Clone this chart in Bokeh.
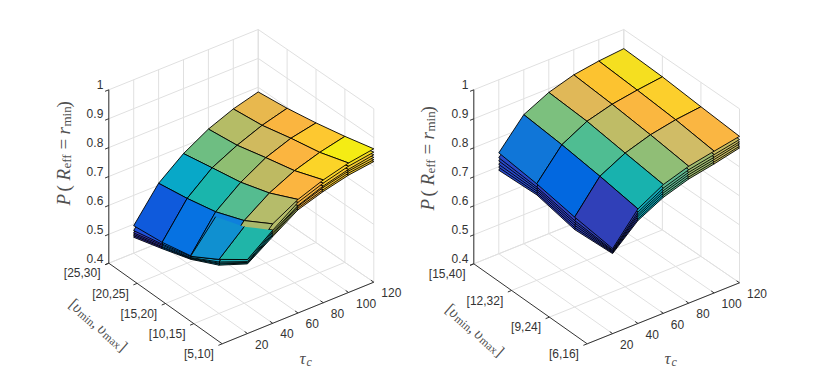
from math import pi, radians, cos, sin
from bokeh.plotting import figure
from bokeh.layouts import row
from bokeh.models import Range1d
from bokeh.core.properties import value
from bokeh.embed import file_html
from bokeh.resources import INLINE

tau_values = [20, 40, 60, 80, 100, 120]
tau_ticks = [20, 40, 60, 80, 100, 120]
z_ticks = [0.4, 0.5, 0.6, 0.7, 0.8, 0.9, 1.0]
z_tick_labels = ["0.4", "0.5", "0.6", "0.7", "0.8", "0.9", "1"]

left_speed_labels = ["[5,10]", "[10,15]", "[15,20]", "[20,25]", "[25,30]"]
right_speed_labels = ["[6,16]", "[9,24]", "[12,32]", "[15,40]"]

# Surfaces, top to bottom; rows follow the speed bins, columns follow tau_c
left_a = [[.656, .744, .793, .825, .848, .8615],
          [.587, .686, .746, .788, .816, .836],
          [.530, .647, .714, .764, .796, .814],
          [.507, .624, .695, .738, .772, .796],
          [.495, .607, .675, .725, .760, .784]]
left_b = [[.656, .722, .783, .814, .837, .850],
          [.587, .665, .736, .777, .805, .824],
          [.528, .630, .704, .753, .785, .802],
          [.501, .615, .685, .727, .761, .784],
          [.478, .596, .664, .714, .749, .772]]
left_c = [[.649, .716, .772, .804, .826, .841],
          [.578, .660, .730, .769, .796, .815],
          [.524, .625, .697, .745, .776, .793],
          [.497, .608, .677, .719, .752, .775],
          [.470, .588, .656, .706, .740, .763]]
left_d = [[.646, .710, .769, .799, .820, .832],
          [.574, .655, .722, .762, .788, .807],
          [.522, .620, .690, .738, .768, .785],
          [.492, .602, .670, .712, .744, .767],
          [.465, .581, .649, .699, .732, .755]]
left_e = [[.644, .705, .763, .791, .813, .824],
          [.571, .650, .715, .754, .781, .799],
          [.520, .616, .684, .730, .761, .777],
          [.489, .596, .663, .704, .737, .759],
          [.460, .574, .642, .691, .725, .747]]
left_f = [[.641, .700, .757, .785, .806, .8175],
          [.567, .645, .710, .748, .774, .792],
          [.518, .612, .678, .724, .754, .770],
          [.485, .589, .657, .698, .730, .752],
          [.455, .567, .635, .685, .718, .740]]

right_a = [[.693, .795, .844, .872, .889, .905],
           [.710, .816, .861, .889, .906, .916],
           [.733, .833, .879, .903, .917, .928],
           [.748, .845, .887, .913, .926, .934]]
right_b = [[.688, .784, .832, .860, .877, .894],
           [.698, .803, .848, .876, .893, .904],
           [.722, .820, .866, .890, .904, .916],
           [.731, .831, .874, .900, .913, .922]]
right_c = [[.685, .776, .823, .851, .868, .886],
           [.690, .795, .840, .868, .885, .896],
           [.715, .812, .858, .882, .896, .908],
           [.720, .821, .865, .892, .905, .914]]
right_d = [[.682, .769, .815, .843, .860, .879],
           [.682, .786, .831, .859, .876, .888],
           [.708, .803, .849, .873, .887, .900],
           [.708, .812, .857, .883, .896, .906]]
right_e = [[.679, .761, .807, .835, .852, .871],
           [.674, .778, .823, .851, .868, .881],
           [.701, .795, .841, .865, .879, .893],
           [.698, .803, .848, .875, .888, .899]]
right_f = [[.676, .755, .800, .828, .845, .865],
           [.667, .771, .816, .844, .861, .874],
           [.695, .788, .834, .858, .872, .886],
           [.688, .795, .841, .868, .881, .892]]

left_top_colors = [["#A8B86C", "#B5BC6A", "#FBB540", "#FBD428", "#F4EC14"],
                   ["#0F80DC", "#55BC90", "#BEBA62", "#FBB540", "#FDC830"],
                   ["#0672E2", "#1AB5AC", "#8FBE72", "#D0BA5E", "#FAB540"],
                   ["#0F5ADC", "#08A8C8", "#6EBE82", "#B5BC66", "#E8B84E"]]
left_second_colors = [["#20B5A8", "#B5BC6A", "#FBB540", "#FBD428", "#F4DC20"],
                      ["#1090D0", "#55BC90", "#BEBA62", "#FBB540", "#FDC830"],
                      ["#0672E2", "#1AB5AC", "#8FBE72", "#D0BA5E", "#FAB540"],
                      ["#2050D8", "#08A8C8", "#6EBE82", "#B5BC66", "#E8B84E"]]
left_low_colors = [["#20A8B0", "#A8B860", "#F0B040", "#F8C830", "#F0C830"],
                   ["#15A0C8", "#55BC90", "#BEBA62", "#FBB540", "#FDC830"],
                   ["#0A80E0", "#1AB5AC", "#8FBE72", "#D0BA5E", "#FAB540"],
                   ["#3C3CC0", "#08A8C8", "#6EBE82", "#B5BC66", "#E8B84E"]]

right_top_colors = [["#3040B8", "#18B2AE", "#90BE76", "#D0BC66", "#FAB642"],
                    ["#0268E0", "#4FBD92", "#BFBC66", "#FAB740", "#FCCF2C"],
                    ["#1076D8", "#7CC07E", "#E0B858", "#FCC330", "#F5DF20"]]
right_low_colors = [["#3040B8", "#10A8B8", "#60B890", "#A0BC70", "#C8BC60"],
                    ["#3040C0", "#4FBD92", "#BFBC66", "#FAB740", "#FCCF2C"],
                    ["#2848C8", "#7CC07E", "#E0B858", "#FCC330", "#F5DF20"]]

AXIS = "#333333"
GRID = "#E0E0E0"
LABEL = "#505050"
SANS = value("Liberation Sans")
SERIF = value("Liberation Serif")


def make_panel(xr, front, right, left, back, zpx, speed_labels, layers, ymax,
               label_dx, label_dy, v_dx, tc_x, swap_cells):
    p = figure(width=407, height=384, x_range=Range1d(*xr), y_range=Range1d(384, 0),
               output_backend="svg", toolbar_location=None, min_border=0,
               outline_line_color=None, background_fill_color="white",
               border_fill_color="white")
    p.axis.visible = False
    p.grid.visible = False

    def proj(t, y, z):
        a, b = t / 120.0, (y - 1.0) / (ymax - 1.0)
        w = ((1 - a) * (1 - b), a * (1 - b), (1 - a) * b, a * b)
        c = (front, right, left, back)
        return (sum(wi * ci[0] for wi, ci in zip(w, c)),
                sum(wi * ci[1] for wi, ci in zip(w, c)) - (z - 0.4) * zpx)

    def seg(a, b):
        return [a[0], b[0]], [a[1], b[1]]

    ys = list(range(1, ymax + 1))
    gx, gy = [], []
    for t in tau_ticks:
        for a, b in [((t, 1, .4), (t, ymax, .4)), ((t, ymax, .4), (t, ymax, 1.))]:
            s = seg(proj(*a), proj(*b)); gx.append(s[0]); gy.append(s[1])
    for y in ys:
        for a, b in [((0, y, .4), (120, y, .4)), ((120, y, .4), (120, y, 1.))]:
            s = seg(proj(*a), proj(*b)); gx.append(s[0]); gy.append(s[1])
    for z in z_ticks:
        for a, b in [((0, ymax, z), (120, ymax, z)), ((120, ymax, z), (120, 1, z))]:
            s = seg(proj(*a), proj(*b)); gx.append(s[0]); gy.append(s[1])
    s = seg(proj(0, ymax, .4), proj(0, ymax, 1.)); gx.append(s[0]); gy.append(s[1])
    p.multi_line(gx, gy, line_color=GRID, line_width=1)

    ax, ay = [], []
    for a, b in [((0, 1, .4), (120, 1, .4)), ((0, 1, .4), (0, ymax, .4)), ((0, ymax, .4), (0, ymax, 1.))]:
        s = seg(proj(*a), proj(*b)); ax.append(s[0]); ay.append(s[1])
    for t in tau_ticks:
        s = seg(proj(t, 1, .4), proj(t, 1 + (ymax - 1) * .025, .4)); ax.append(s[0]); ay.append(s[1])
    for y in ys:
        s = seg(proj(0, y, .4), proj(-3, y, .4)); ax.append(s[0]); ay.append(s[1])
    for z in z_ticks:
        s = seg(proj(0, ymax, z), proj(-3, ymax, z)); ax.append(s[0]); ay.append(s[1])
    p.multi_line(ax, ay, line_color=AXIS, line_width=1)

    def draw_layer(Z, colors, skip=()):
        xs, yss, cs = [], [], []
        for i in range(len(Z) - 2, -1, -1):
            for j in range(len(tau_values) - 2, -1, -1):
                if (i, j) in skip:
                    continue
                c = [(j, i), (j + 1, i), (j + 1, i + 1), (j, i + 1)]
                pts = [proj(tau_values[m], n + 1, Z[n][m]) for m, n in c]
                xs.append([q[0] for q in pts])
                yss.append([q[1] for q in pts])
                cs.append(colors[i][j])
        p.patches(xs, yss, fill_color=cs, line_color="black", line_width=0.9, line_join="round")

    for Z, colors, skip in layers:
        draw_layer(Z, colors, skip)

    # Cells of the second surface that rise through the top one
    for Z, colors, cells in swap_cells:
        for i, j in cells:
            p0 = proj(tau_values[j], i + 1, Z[i][j])
            p1 = proj(tau_values[j + 1], i + 1, Z[i][j + 1])
            p2 = proj(tau_values[j + 1], i + 2, Z[i + 1][j + 1])
            p3 = proj(tau_values[j], i + 2, Z[i + 1][j])
            p.patch([p0[0], p1[0], p2[0], p3[0]], [p0[1], p1[1], p2[1], p3[1]],
                    fill_color=colors[i][j], line_color=None)
            p.multi_line([[p1[0], p0[0], p3[0], p2[0]]], [[p1[1], p0[1], p3[1], p2[1]]],
                         line_color="black", line_width=0.9)

    # tick labels
    zp = [proj(0, ymax, z) for z in z_ticks]
    p.text([q[0] - 5.5 for q in zp], [q[1] - 5.2 for q in zp], text=z_tick_labels,
           text_font=SANS, text_font_size="12px", text_color=AXIS,
           text_align="right", text_baseline="middle")
    yp = [proj(0, y, .4) for y in ys]
    p.text([q[0] - 8.3 for q in yp], [q[1] + 10.2 for q in yp], text=speed_labels,
           text_font=SANS, text_font_size="12px", text_color=AXIS,
           text_align="right", text_baseline="middle")
    xp = [proj(t, 1, .4) for t in tau_ticks]
    p.text([q[0] + 7.5 for q in xp], [q[1] + 10.7 for q in xp], text=[str(t) for t in tau_ticks],
           text_font=SANS, text_font_size="12px", text_color=AXIS,
           text_align="left", text_baseline="middle")

    def piece(x, y, txt, size, style, angle=0.0):
        p.text([x], [y], text=[txt], text_font=SERIF, text_font_size=size,
               text_font_style=style, text_color=LABEL, angle=angle,
               text_align="left", text_baseline="alphabetic")

    # P (R_eff = r_min), rotated
    bx = 62.5 + label_dx
    for yy, txt, size, style, dx in [
            (205, "P", "19px", "italic", 0), (191, "(", "19px", "normal", 0),
            (180, "R", "19px", "italic", 0), (168, "eff", "13px", "normal", 3),
            (149, "=", "19px", "normal", 0), (134, "r", "19px", "italic", 0),
            (126, "min", "13px", "normal", 3), (107, ")", "19px", "normal", 0)]:
        piece(bx + dx, yy + label_dy, txt, size, style, pi / 2)

    # [v_min, v_max], rotated downwards
    ang = radians(41)
    ox, oy = 71.0 + v_dx, 301.0 + (5 if v_dx else 0)
    d = (cos(ang), sin(ang))
    n = (-sin(ang), cos(ang))
    for t, txt, size, style, off in [
            (0, "[", "16px", "normal", 0), (5, "\u03c5", "16px", "italic", 0),
            (13, "min", "11.5px", "normal", 2.5), (31, ",", "16px", "normal", 0),
            (38, "\u03c5", "16px", "italic", 0), (46, "max", "11.5px", "normal", 2.5),
            (66, "]", "16px", "normal", 0)]:
        piece(ox + t * d[0] + off * n[0], oy + t * d[1] + off * n[1], txt, size, style, -ang)

    piece(tc_x, 358, "\u03c4", "17px", "italic")
    piece(tc_x + 7, 361, "c", "12px", "italic")
    return p


left_layers = [(left_f, left_low_colors, ()), (left_e, left_low_colors, ()),
               (left_d, left_low_colors, ()), (left_c, left_low_colors, ()),
               (left_b, left_second_colors, ()), (left_a, left_top_colors, ())]
right_layers = [(right_f, right_low_colors, ()), (right_e, right_low_colors, ()),
                (right_d, right_low_colors, ()), (right_c, right_low_colors, ()),
                (right_b, right_low_colors, ()), (right_a, right_top_colors, ())]

p1 = make_panel((0, 407), (221.7, 343.3), (373.3, 281.7), (108.3, 262.7), (257.7, 202.4), 173.4 / .6,
                left_speed_labels, left_layers, 5, 0, 0, 0, 299,
                [(left_b, left_second_colors, [(0, 0), (1, 0)])])
p2 = make_panel((407, 814), (586.7, 343.3), (739.0, 282.3), (473.3, 263.3), (623.3, 203.0), 174.0 / .6,
                right_speed_labels, right_layers, 4, 364, 5, 376.7, 664, [])

open("out.html", "w").write(file_html(row(p1, p2), INLINE))
